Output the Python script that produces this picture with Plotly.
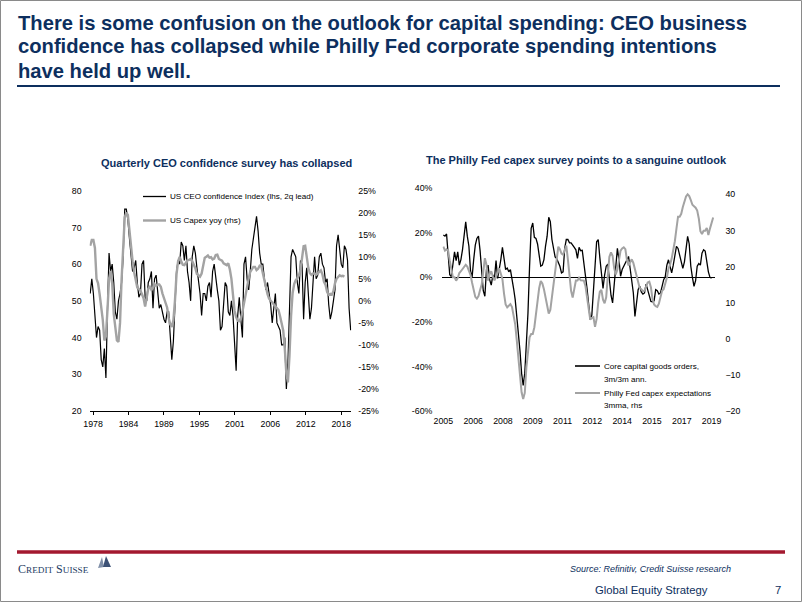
import plotly.graph_objects as go

W, H = 802, 602

# ---------------- data: left chart (quarterly, from 1978Q1) ----------------
CEO_START, CEO_FREQ = 1978.0, 4
ceo_confidence = [
    52, 56, 52, 45, 40, 43, 42, 34, 32, 37, 29, 48, 63, 58, 60, 55, 47, 45, 50, 52,
    55, 62, 75, 75, 72, 67, 63, 58, 59, 61, 55, 51, 52, 60, 61, 51, 50, 55, 56, 58,
    48, 56, 57, 52, 48, 49, 47, 45, 44, 47, 47, 41, 34, 39, 48, 58, 61, 60, 66, 65,
    61, 65, 58, 55, 50, 62, 65, 63, 59, 55, 52, 46, 52, 52, 50, 54, 55, 51, 58, 60,
    56, 53, 50, 42, 43, 48, 55, 54, 47, 46, 50, 46, 38, 31, 46, 51, 45, 40, 60, 62,
    56, 53, 58, 64, 67, 70, 73, 69, 63, 60, 60, 56, 53, 55, 52, 49, 44, 49, 52, 44,
    43, 42, 38, 38, 40, 26, 33, 52, 62, 64, 63, 62, 55, 52, 61, 60, 45, 55, 59, 53,
    45, 48, 55, 62, 56, 57, 62, 63, 60, 59, 55, 56, 49, 45, 47, 50, 53, 65, 68, 64,
    60, 59, 65, 64, 61, 48, 42,
]
us_capex_yoy = [
    12.5, 13.8, 13.8, 12.0, 5.0, 4.0, 1.5, -1.5, -4.3, -9.0, -8.0, -2.0, 5.0, 6.8, 4.0, -3.0,
    -6.5, -9.0, -9.3, -5.0, 5.0, 14.0, 19.0, 20.0, 19.5, 16.0, 12.0, 9.0, 6.5, 4.5, 3.0, 2.7,
    2.3, 1.5, 0.6, -1.3, 0.9, 2.8, 3.2, 2.5, 3.0, 3.8, 3.4, 3.7, 3.7, 3.2, 1.7, 0.5,
    -0.7, -1.5, -3.9, -5.3, -5.9, -4.4, 0.0, 6.0, 9.0, 10.0, 9.0, 8.2, 8.1, 8.6, 9.2, 9.3,
    9.5, 9.0, 8.3, 7.4, 6.1, 5.8, 5.5, 6.2, 8.4, 9.8, 10.0, 10.3, 9.8, 9.9, 9.4, 9.6,
    10.4, 10.5, 9.5, 9.2, 9.1, 8.5, 8.2, 8.1, 8.5, 7.1, 5.0, 1.0, -2.3, -3.7, -4.5, -4.6,
    -4.0, -2.5, -0.5, 1.8, 3.7, 5.1, 6.6, 7.3, 7.7, 7.7, 7.0, 7.3, 8.0, 7.9, 6.2, 4.3,
    3.0, 1.5, 0.5, 0.1, -0.4, -0.8, -1.2, -1.6, -2.1, -3.5, -5.2, -6.7, -10.8, -16.5, -18.5, -12.5,
    -3.5, 1.8, 3.8, 4.7, 5.1, 5.8, 7.0, 10.5, 12.4, 12.5, 10.0, 7.5, 6.3, 5.9, 6.2, 6.2,
    5.9, 6.3, 6.5, 6.9, 6.0, 4.3, 3.6, 2.0, 1.4, 1.6, 1.4, 2.2, 4.0, 5.0, 5.4, 5.8,
    5.6, 5.7, 5.5,
]
left_tick_labels = ["1978", "1984", "1989", "1995", "2001", "2006", "2012", "2018"]

# ---------------- data: right chart (monthly, from Jan 2005) ----------------
PF_START, PF_FREQ = 2005.0, 12
core_capgoods_orders = [
    19, 18.5, 19.5, 8, 1.2, 0.4, 7.5, 11.5, 7.5, 11.5, 5.5, 8, 12.5, 18, 25, 18.5, 14, 3, 0, 8,
    14.5, 17.5, 18.5, 12, 3.5, -6, -8.5, 3.5, 5.5, -1, -3.5, 1, -0.5, 7.5, -0.5, 3.5, 8, 13.5, 9.4, 3.5,
    4.2, 2.5, 3.5, 0, -5, -10, -17, -25, -33, -43, -48.5, -43, -30, -16, 5, 22, 24.4, 18, 17.5, 15,
    10, 5, 5.5, 8, 14, 18.5, 27, 25, 17, 12, 9.2, 8.4, 7, 5, 2, 2.5, 13, 17, 17, 15.5,
    15.5, 14.7, 13.5, 12.4, 8.5, 13.5, 12, 12.2, 7, 1, -5, -12, -19, -17, -8, 5, 16, 17, 9, 0,
    -5, 1, 5, 6, -2.5, -8, -11.5, -3, 3.4, 13, 8, 0.5, 3.5, 4.9, 6.5, 7.9, 9.4, 4, -1.5, -7,
    -17.5, -11.5, -5.5, -4, -6.5, -7.5, -7, -3, -6, -9, -10.8, -11, -10.5, -5.5, -6, -7.5, -7, -4, -1, 0.4,
    5.5, 7.9, 5, 2, 5.5, 10, 13.9, 13, 10, 6, 4, 7, 14, 18.4, 15, 5, 0, -4, -1.5, 5,
    6.2, 5.5, 10.9, 12.4, 11.8, 7, 2.5, 0, -0.3,
]
philly_capex_exp = [
    25.5, 24.4, 24.8, 24.4, 21.6, 18.8, 17, 17, 16.1, 16.8, 18.2, 18.7, 19.2, 20, 20.5, 20, 18.8, 17.7, 15.5, 13,
    11.6, 11.1, 11.8, 13.5, 15, 18.5, 22.3, 20.5, 16.1, 17.9, 18.7, 17.2, 16.2, 17.1, 18.5, 19.5, 18, 16.5, 12.5, 9.5,
    8.7, 9.2, 9.6, 8.8, 6.5, 4, -0.5, -5.5, -10.5, -14.8, -16.7, -15, -8, -3, 0.4, 1.3, 1.3, 3.2, 6.8, 11.2,
    14, 16, 15.3, 13.7, 11.2, 8.5, 7, 8, 11.5, 15.5, 19, 23, 25.5, 24.8, 23.6, 23.3, 24.8, 25.8, 22, 16.5,
    13.3, 11.4, 13.3, 16.1, 16.1, 16.9, 16.2, 16.1, 16.1, 14.6, 11.3, 8.2, 5.3, 5.8, 6, 3.3, 5.5, 10, 13, 13.5,
    10.8, 9.8, 11.5, 17.5, 22.7, 23.9, 23, 19.5, 17.8, 19.2, 22, 24.4, 25, 25.3, 24.8, 21.8, 20.3, 21.4, 22, 21,
    19.2, 16.8, 15.4, 14, 13.7, 13.2, 13.3, 14.6, 15.6, 15.8, 14.3, 11, 9.5, 9, 8.8, 9.7, 12, 13.3, 13.7, 15,
    16.9, 19.4, 20.5, 22.2, 24.2, 27, 30.5, 33.8, 33.8, 34.6, 36.5, 38, 39.4, 40, 39.5, 38.4, 37.1, 36.7, 36.3, 35.5,
    33.3, 29.8, 29, 29.9, 29.9, 30.7, 28.7, 30.5, 32, 33.6,
]
right_tick_labels = ["2005", "2006", "2008", "2009", "2011", "2012", "2014", "2015", "2017", "2019"]

left_y_ticks = [20, 30, 40, 50, 60, 70, 80]
left_y2_ticks = [-25, -20, -15, -10, -5, 0, 5, 10, 15, 20, 25]
right_y_ticks = [-60, -40, -20, 0, 20, 40]
right_y2_ticks = [-20, -10, 0, 10, 20, 30, 40]

# ---------------- style ----------------
NAVY = "#0d2f5e"
SANS = "Liberation Sans, Arial, sans-serif"
GREY = "#a3a3a3"


def fx(px):
    return px / W


def fy(py):
    return 1 - py / H


ceo_x = [CEO_START + i / CEO_FREQ for i in range(len(ceo_confidence))]
capex_x = [CEO_START + i / CEO_FREQ for i in range(len(us_capex_yoy))]
core_x = [PF_START + i / PF_FREQ for i in range(len(core_capgoods_orders))]
phil_x = [PF_START + i / PF_FREQ for i in range(len(philly_capex_exp))]

fig = go.Figure()
fig.add_trace(go.Scatter(x=ceo_x, y=ceo_confidence, mode="lines", xaxis="x", yaxis="y",
                         line=dict(color="#000000", width=1.2), showlegend=False))
fig.add_trace(go.Scatter(x=capex_x, y=us_capex_yoy, mode="lines", xaxis="x", yaxis="y2",
                         line=dict(color=GREY, width=2.4), showlegend=False))
fig.add_trace(go.Scatter(x=core_x, y=core_capgoods_orders, mode="lines", xaxis="x2", yaxis="y3",
                         line=dict(color="#000000", width=1.3), showlegend=False))
fig.add_trace(go.Scatter(x=phil_x, y=philly_capex_exp, mode="lines", xaxis="x2", yaxis="y4",
                         line=dict(color=GREY, width=2.0), showlegend=False))

tickfont = dict(family=SANS, size=8.8, color="#000000")

left_tickvals = [1978.45 + 5.65 * k for k in range(len(left_tick_labels))]
right_tickvals = [2005 + k * 14 / 9 for k in range(len(right_tick_labels))]

fig.update_layout(
    autosize=True,
    margin=dict(l=0, r=0, t=0, b=0, autoexpand=False),
    paper_bgcolor="white", plot_bgcolor="rgba(0,0,0,0)",
    hovermode=False,
    xaxis=dict(domain=[fx(89.6), fx(351.3)], range=[1977.9, 2019.6], anchor="y",
               tickvals=left_tickvals, ticktext=left_tick_labels, tickfont=tickfont,
               showgrid=False, zeroline=False, showline=True, linecolor="#000", linewidth=1,
               ticks="outside", ticklen=3, tickcolor="#000", ticklabelstandoff=1),
    yaxis=dict(domain=[fy(411), fy(190.7)], range=[20, 80], tickvals=left_y_ticks,
               tickfont=tickfont, showgrid=False, zeroline=False, showline=False,
               ticks="", ticklabelstandoff=7),
    yaxis2=dict(overlaying="y", side="right", anchor="x", range=[-25, 25],
                tickvals=left_y2_ticks, ticktext=[f"{v}%" for v in left_y2_ticks],
                tickfont=tickfont, showgrid=False, zeroline=False, showline=False,
                ticks="", ticklabelstandoff=6),
    xaxis2=dict(domain=[fx(442.4), fx(715.4)], range=[2004.95, 2019.2], anchor="y3",
                tickvals=right_tickvals, ticktext=right_tick_labels, tickfont=tickfont,
                showgrid=False, zeroline=False, showline=False, ticks="", ticklabelstandoff=3),
    yaxis3=dict(domain=[fy(411), fy(188.3)], range=[-60, 40], anchor="x2",
                tickvals=right_y_ticks, ticktext=[f"{v}%" for v in right_y_ticks],
                tickfont=tickfont, showgrid=False, zeroline=True, zerolinecolor="#000",
                zerolinewidth=1.3, showline=False, ticks="", ticklabelstandoff=9),
    yaxis4=dict(overlaying="y3", side="right", anchor="x2", range=[-20, 41.66],
                tickvals=right_y2_ticks, tickfont=tickfont, showgrid=False, zeroline=False,
                showline=False, ticks="", ticklabelstandoff=9),
)

shapes = []
annotations = []

# outer frame
shapes.append(dict(type="rect", xref="paper", yref="paper", x0=fx(0.5), x1=fx(801.5),
                   y0=fy(601.5), y1=fy(0.5), line=dict(color="#8a8a8a", width=1)))

# headline
title_lines = [
    "There is some confusion on the outlook for capital spending: CEO business",
    "confidence has collapsed while Philly Fed corporate spending intentions",
    "have held up well.",
]
for i, t in enumerate(title_lines):
    annotations.append(dict(text=f"<b>{t}</b>", xref="paper", yref="paper", x=fx(15.5),
                            y=fy(22.5 + 24 * i), xanchor="left", yanchor="middle",
                            showarrow=False, font=dict(family=SANS, size=20.2, color=NAVY)))
shapes.append(dict(type="line", xref="paper", yref="paper", x0=fx(17), x1=fx(780),
                   y0=fy(86), y1=fy(86), line=dict(color=NAVY, width=2)))

# chart titles
annotations.append(dict(text="<b>Quarterly CEO confidence survey has collapsed</b>", xref="paper",
                        yref="paper", x=fx(226), y=fy(163), xanchor="center", yanchor="middle",
                        showarrow=False, font=dict(family=SANS, size=11, color=NAVY)))
annotations.append(dict(text="<b>The Philly Fed capex survey points to a sanguine outlook</b>",
                        xref="paper", yref="paper", x=fx(576), y=fy(160), xanchor="center",
                        yanchor="middle", showarrow=False,
                        font=dict(family=SANS, size=11, color=NAVY)))

legfont = dict(family=SANS, size=8.1, color="#000")
# left legend
shapes.append(dict(type="line", xref="paper", yref="paper", x0=fx(143), x1=fx(166),
                   y0=fy(196.5), y1=fy(196.5), line=dict(color="#000", width=1.3)))
shapes.append(dict(type="line", xref="paper", yref="paper", x0=fx(143), x1=fx(166),
                   y0=fy(220.5), y1=fy(220.5), line=dict(color=GREY, width=2.4)))
annotations.append(dict(text="US CEO confidence Index (lhs, 2q lead)", xref="paper", yref="paper",
                        x=fx(167.5), y=fy(196.5), xanchor="left", yanchor="middle",
                        showarrow=False, font=legfont))
annotations.append(dict(text="US Capex yoy (rhs)", xref="paper", yref="paper",
                        x=fx(167.5), y=fy(220.5), xanchor="left", yanchor="middle",
                        showarrow=False, font=legfont))
# right legend
shapes.append(dict(type="line", xref="paper", yref="paper", x0=fx(575), x1=fx(600),
                   y0=fy(366), y1=fy(366), line=dict(color="#333", width=2)))
shapes.append(dict(type="line", xref="paper", yref="paper", x0=fx(575), x1=fx(600),
                   y0=fy(393), y1=fy(393), line=dict(color=GREY, width=2)))
for txt, py in [("Core capital goods orders,", 366), ("3m/3m ann.", 379),
                ("Philly Fed capex expectations", 393), ("3mma, rhs", 405.5)]:
    annotations.append(dict(text=txt, xref="paper", yref="paper", x=fx(601.5), y=fy(py),
                            xanchor="left", yanchor="middle", showarrow=False, font=legfont))

# footer
shapes.append(dict(type="line", xref="paper", yref="paper", x0=fx(17), x1=fx(785),
                   y0=fy(552), y1=fy(552), line=dict(color="#a3192f", width=3.5)))
annotations.append(dict(text="C<span style='font-size:9.2px'>REDIT</span> S<span style='font-size:9.2px'>UISSE</span>",
                        xref="paper", yref="paper", x=fx(15.5), y=fy(569), xanchor="left",
                        yanchor="middle", showarrow=False,
                        font=dict(family="Liberation Serif, Times New Roman, serif", size=12,
                                  color="#243b63")))


def ppath(points):
    return "M " + " L ".join(f"{fx(a):.5f},{fy(b):.5f}" for a, b in points) + " Z"


shapes.append(dict(type="path", xref="paper", yref="paper",
                   path=ppath([(98, 568), (102, 557), (104, 567)]),
                   fillcolor="#7f8fa8", line=dict(width=0)))
shapes.append(dict(type="path", xref="paper", yref="paper",
                   path=ppath([(103, 567), (106, 556), (111, 567)]),
                   fillcolor="#3d5276", line=dict(width=0)))
annotations.append(dict(text="<i>Source: Refinitiv, Credit Suisse research</i>", xref="paper",
                        yref="paper", x=fx(733), y=fy(569), xanchor="right", yanchor="middle",
                        showarrow=False, font=dict(family=SANS, size=9, color=NAVY)))
annotations.append(dict(text="Global Equity Strategy", xref="paper", yref="paper", x=fx(593),
                        y=fy(590), xanchor="left", yanchor="middle", showarrow=False,
                        font=dict(family=SANS, size=11.3, color=NAVY)))
annotations.append(dict(text="7", xref="paper", yref="paper", x=fx(783), y=fy(590),
                        xanchor="right", yanchor="middle", showarrow=False,
                        font=dict(family=SANS, size=11.3, color=NAVY)))

fig.update_layout(shapes=shapes, annotations=annotations)

# the graph div is pinned to the window's top-left corner at exactly 802x602
fig.write_html(
    "out.html",
    config={"staticPlot": True, "responsive": False},
    default_width="802px;position:fixed;left:0px;top:0px;margin:0px",
    default_height="602px",
)
